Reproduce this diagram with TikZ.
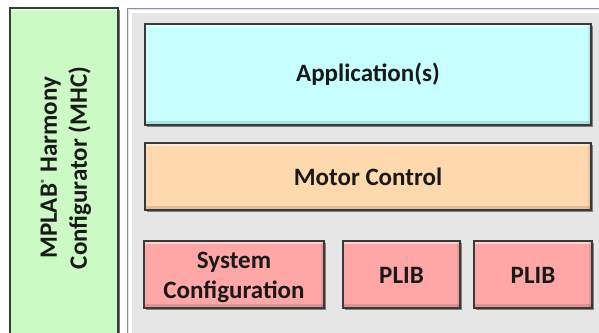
\documentclass[tikz,border=0pt]{standalone}
\usepackage{fontspec}
\setmainfont{Carlito}
\definecolor{appc}{HTML}{C8FFFF}
\definecolor{mcc}{HTML}{FFD9AE}
\definecolor{plc}{HTML}{FFA6A6}
\definecolor{grc}{HTML}{CCFAC4}
\definecolor{gyc}{HTML}{E6E6E6}
\definecolor{edc}{HTML}{3A3A3A}
\definecolor{blc}{HTML}{8090B0}
\begin{document}
\begin{tikzpicture}[x=1pt,y=-1pt,
  lbl/.style={font=\bfseries\fontsize{25}{30}\selectfont, align=center, text=black!90}]
\useasboundingbox (0,0) rectangle (599,332);
\begin{scope}
\clip (0,0) rectangle (599,332);
% MHC green column
\fill[black!55] (12,10) rectangle (120,340);
\fill[grc] (10,8) rectangle (118,340);
\fill[white, opacity=0.4] (11,9) rectangle (117,11);
\draw[edc, line width=1.2pt] (10,340) -- (10,8) -- (118,8) -- (118,340);
% gray container
\fill[gyc] (127,8) rectangle (610,340);
\draw[white, line width=3pt] (130,340) -- (130,11) -- (610,11);
\draw[blc, line width=1pt] (127,340) -- (127,8) -- (610,8);
% boxes
\newcommand{\bevbox}[5]{%
  \fill[black!50] (#1+2,#2+2) rectangle (#3+2,#4+2);
  \fill[#5] (#1,#2) rectangle (#3,#4);
  \fill[white, opacity=0.5] (#1,#2) rectangle (#3,#2+3);
  \fill[black, opacity=0.12] (#1,#4-4) rectangle (#3,#4);
  \fill[black, opacity=0.08] (#3-3,#2) rectangle (#3,#4);
  \draw[edc, line width=1.2pt] (#1,#2) rectangle (#3,#4);
}
\bevbox{145}{24}{591}{125}{appc}
\bevbox{145}{143}{591}{210}{mcc}
\bevbox{144}{241}{324}{308}{plc}
\bevbox{343}{241}{460}{308}{plc}
\bevbox{474}{241}{592}{308}{plc}
\end{scope}
\node[lbl] (app) at (368,74) {Application(s)};
\node[lbl] (mc) at (368,177) {Motor Control};
\node[lbl] (sc) at (234,277.5) {System\\Configuration};
\node[lbl] (p1) at (401.5,275) {PLIB};
\node[lbl] (p2) at (533,275) {PLIB};
\node[lbl, rotate=90] (mhc) at (66,168) {MPLAB\textsuperscript{\fontsize{10}{10}\selectfont ®} Harmony\\Configurator (MHC)};
\end{tikzpicture}
\end{document}
